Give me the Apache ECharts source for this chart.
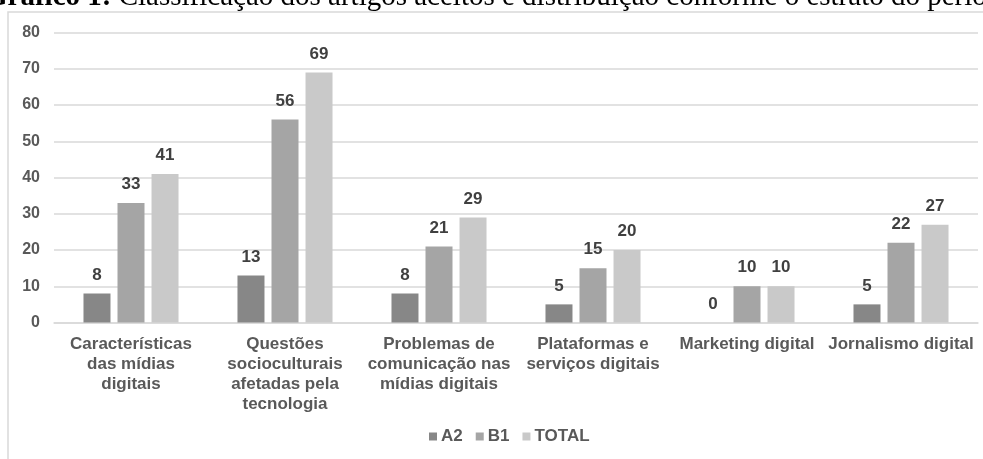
<!DOCTYPE html>
<html>
<head>
<meta charset="utf-8">
<script src="https://cdn.jsdelivr.net/npm/echarts@6/dist/echarts.min.js"></script>
<style>
  html, body { margin: 0; padding: 0; background: #fff; }
  #chart { width: 983px; height: 459px; }
</style>
</head>
<body>
<div id="chart"></div>
<script>
// categorias e valores
const categories = [
    'Características\ndas mídias\ndigitais',
    'Questões\nsocioculturais\nafetadas pela\ntecnologia',
    'Problemas de\ncomunicação nas\nmídias digitais',
    'Plataformas e\nserviços digitais',
    'Marketing digital',
    'Jornalismo digital'
];
const seriesNames = ['A2', 'B1', 'TOTAL'];
const a2 = [8, 13, 8, 5, 0, 5];
const b1 = [33, 56, 21, 15, 10, 22];
const total = [41, 69, 29, 20, 10, 27];
const colors = ['#878787', '#a5a5a5', '#c9c9c9'];

const chart = echarts.init(document.getElementById('chart'));

const makeSeries = (name, data, color) => ({
    name: name,
    type: 'bar',
    data: data,
    barWidth: 27,
    barGap: '26%',
    itemStyle: { color: color },
    label: {
        show: true,
        position: 'top',
        distance: 10,
        color: '#404040',
        fontFamily: 'Liberation Sans',
        fontWeight: 'bold',
        fontSize: 17
    }
});

chart.setOption({
    animation: false,
    color: colors,
    grid: {
        left: 54,
        right: 5,
        top: 32.5,
        bottom: 136.5
    },
    legend: {
        data: seriesNames,
        bottom: 9,
        left: 424,
        itemWidth: 8,
        itemHeight: 8,
        itemGap: 13,
        icon: 'rect',
        textStyle: {
            color: '#595959',
            fontFamily: 'Liberation Sans',
            fontWeight: 'bold',
            fontSize: 17,
            padding: [0, 0, 0, -1]
        }
    },
    xAxis: {
        type: 'category',
        data: categories,
        axisTick: { show: false },
        axisLine: { lineStyle: { color: '#d9d9d9', width: 1.5 } },
        axisLabel: {
            interval: 0,
            margin: 12,
            color: '#595959',
            fontFamily: 'Liberation Sans',
            fontWeight: 'bold',
            fontSize: 17,
            lineHeight: 20,
            verticalAlign: 'top'
        }
    },
    yAxis: {
        type: 'value',
        min: 0,
        max: 80,
        interval: 10,
        axisLine: { show: false },
        axisTick: { show: false },
        splitLine: { lineStyle: { color: '#d9d9d9', width: 1.5 } },
        axisLabel: {
            margin: 14,
            color: '#595959',
            fontFamily: 'Liberation Sans',
            fontWeight: 'bold',
            fontSize: 16
        }
    },
    graphic: [
        {
            type: 'text',
            left: -15,
            top: -17,
            style: {
                text: '{b|Gráfico 1:}{n| Classificação dos artigos aceitos e distribuição conforme o estrato do periódico}',
                rich: {
                    b: { fontFamily: 'Liberation Serif', fontWeight: 'bold', fontSize: 29, fill: '#000' },
                    n: { fontFamily: 'Liberation Serif', fontSize: 29, fill: '#000' }
                }
            }
        },
        {
            type: 'polyline',
            shape: { points: [[8, 459], [8, 12], [983, 12]] },
            style: { stroke: '#d9d9d9', lineWidth: 1.5, fill: null }
        }
    ],
    series: [
        makeSeries(seriesNames[0], a2, colors[0]),
        makeSeries(seriesNames[1], b1, colors[1]),
        makeSeries(seriesNames[2], total, colors[2])
    ]
});
</script>
</body>
</html>
